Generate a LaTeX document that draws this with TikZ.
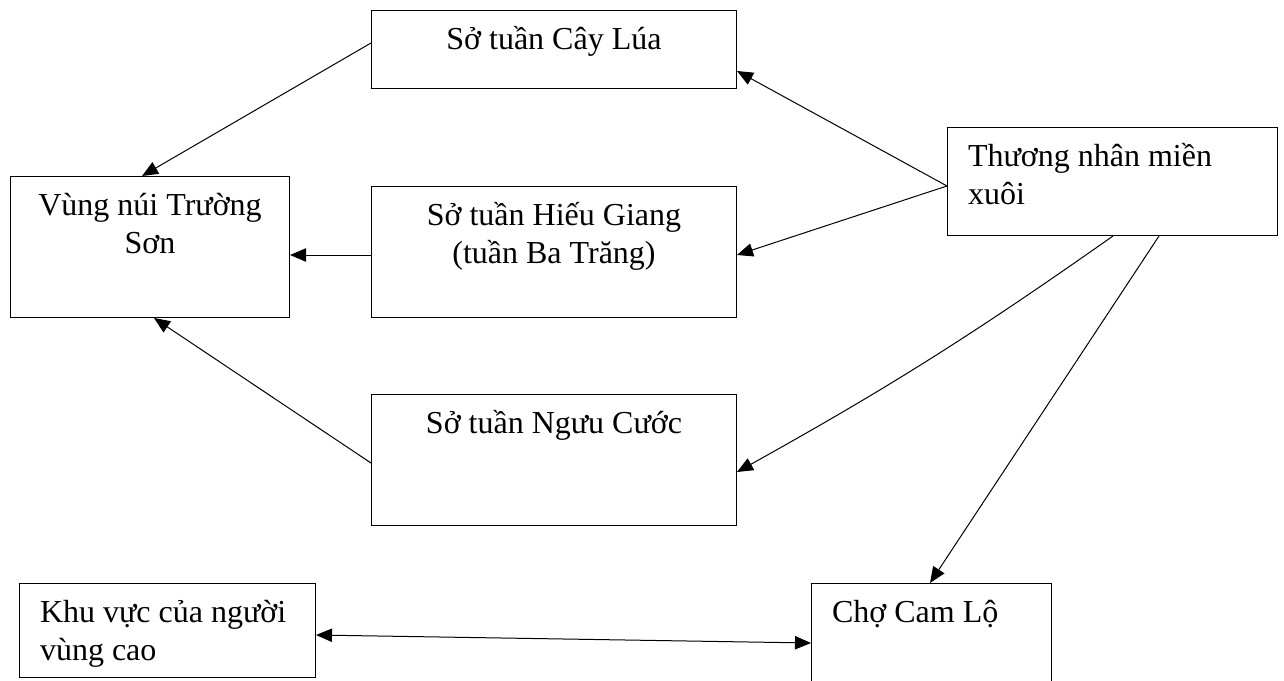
\documentclass[tikz,border=0pt]{standalone}
\usepackage{fontspec}
\setmainfont{Liberation Serif}
\usetikzlibrary{arrows.meta,calc}
\newcommand{\ctrtext}[3]{\parbox[c][#2][t]{#1}{\centering\rule{0pt}{29.25pt}#3}}
\newcommand{\lfttext}[3]{\parbox[c][#2][t]{#1}{\raggedright\leftskip=15.4pt\relax\rule{0pt}{29.25pt}#3}}
\begin{document}
\begin{tikzpicture}[x=0.75pt,y=-0.75pt,
  box/.style={draw,line width=0.75pt,inner sep=0pt,anchor=north west,font=\fontsize{24}{28.8}\selectfont},
  arr/.style={line width=0.75pt,-{Triangle[length=12pt,width=10pt]}},
  darr/.style={line width=0.75pt,{Triangle[length=12pt,width=10pt]}-{Triangle[length=12pt,width=10pt]}}]
\useasboundingbox (0,0) rectangle (1284,681);
\node[box] (caylua) at (371,10) {\ctrtext{273.75pt}{58.5pt}{Sở tuần Cây Lúa}};
\node[box] (hieugiang) at (371,186) {\ctrtext{273.75pt}{98.25pt}{Sở tuần Hiếu Giang\\(tuần Ba Trăng)}};
\node[box] (nguucuoc) at (371,394) {\ctrtext{273.75pt}{98.25pt}{Sở tuần Ngưu Cước}};
\node[box] (vungnui) at (10,176) {\ctrtext{209.25pt}{105.75pt}{Vùng núi Trường\\Sơn}};
\node[box] (thuong) at (947,127) {\lfttext{247.5pt}{81pt}{Thương nhân miền\\xuôi}};
\node[box] (khuvuc) at (19,583) {\lfttext{222pt}{70.5pt}{Khu vực của người\\vùng cao}};
\node[box] (cho) at (811,583) {\lfttext{180pt}{105pt}{Chợ Cam Lộ}};

\draw[arr] ($(caylua.north west)+(0,33)$) -- ($(vungnui.north west)+(132,0)$);
\draw[arr] ($(hieugiang.north west)+(0,69)$) -- ($(vungnui.north east)+(0,79)$);
\draw[arr] ($(nguucuoc.north west)+(0,69)$) -- ($(vungnui.south west)+(144,0)$);
\draw[arr] ($(thuong.north west)+(0,59)$) -- ($(caylua.north east)+(0,61)$);
\draw[arr] ($(thuong.north west)+(0,59)$) -- ($(hieugiang.north east)+(0,69)$);
\draw[arr] ($(thuong.south west)+(166,0)$) to[bend left=3] ($(nguucuoc.north east)+(0,78)$);
\draw[arr] ($(thuong.south west)+(212,0)$) -- ($(cho.north west)+(119,0)$);
\draw[darr] ($(khuvuc.north east)+(0,52)$) -- ($(cho.north west)+(0,60)$);
\end{tikzpicture}
\end{document}
